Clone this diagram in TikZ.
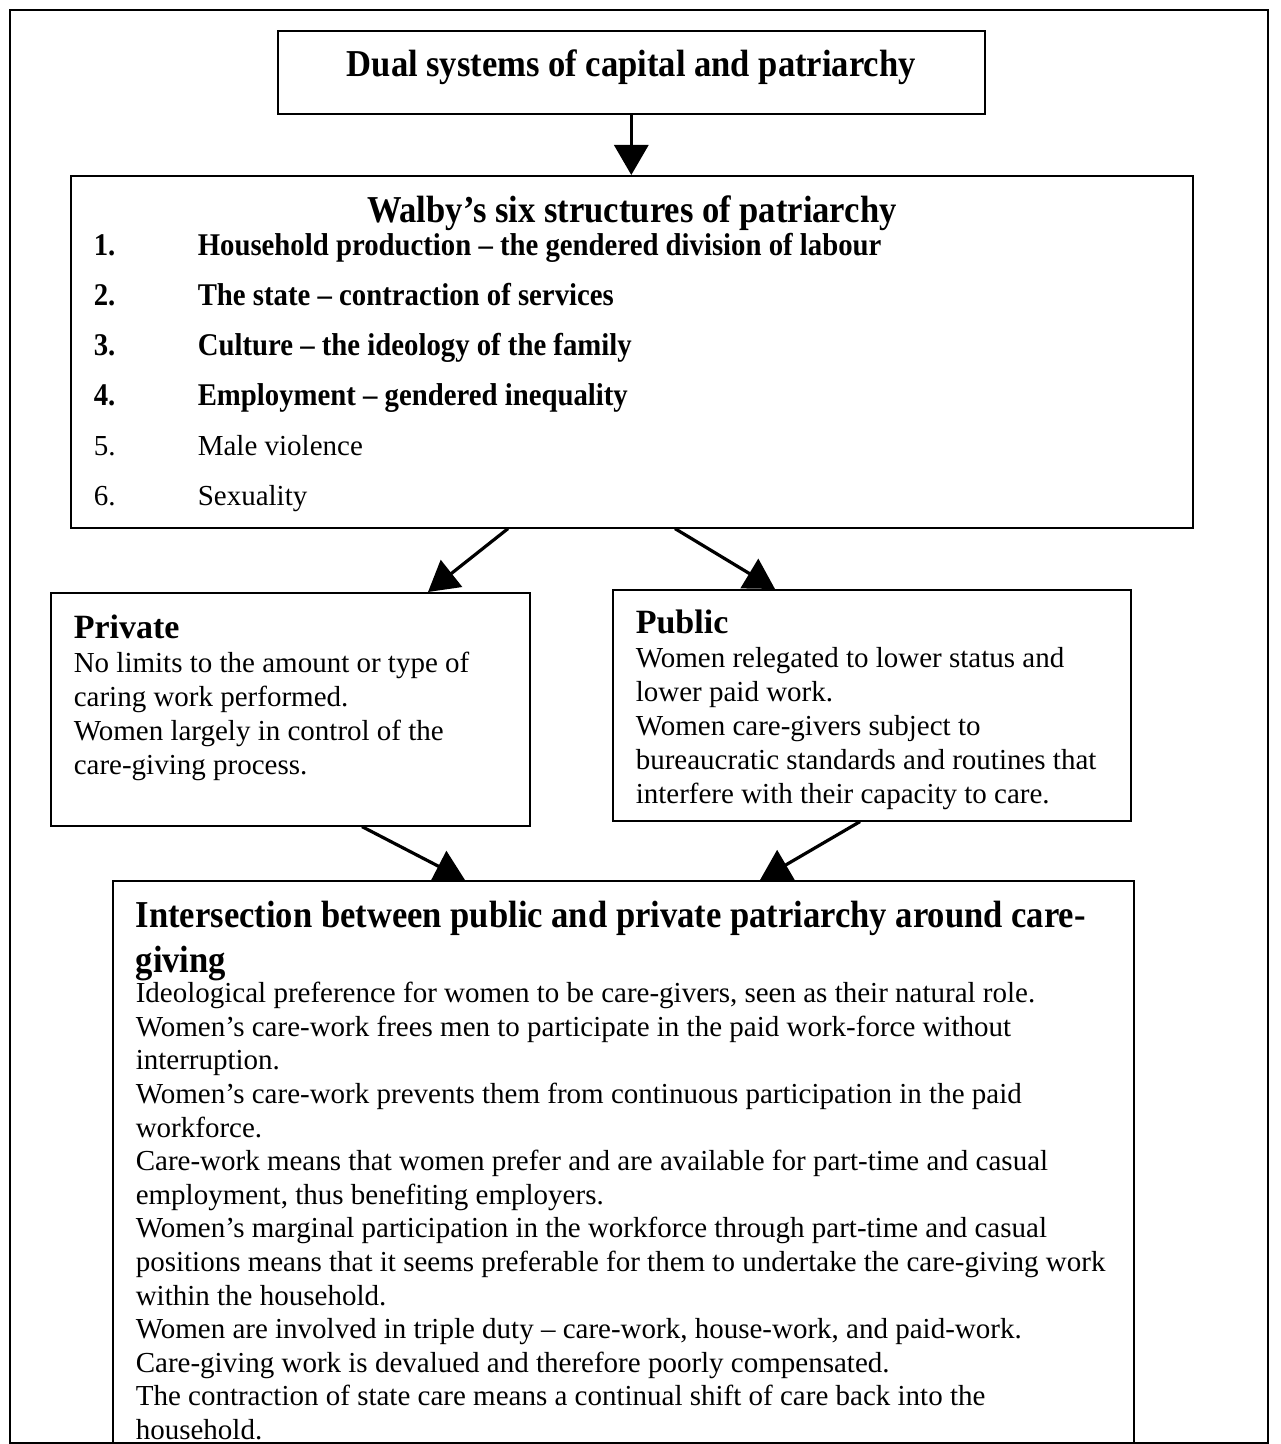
\documentclass[tikz,border=0pt]{standalone}
\usepackage{fontspec}
\setmainfont{Liberation Serif}
\newfontfamily\narrowserif[FakeStretch=0.91]{Liberation Serif}
\usetikzlibrary{arrows.meta}

\tikzset{
  box/.style={draw, rectangle, line width=0.8pt, anchor=north west, inner sep=0pt},
  flow/.style={line width=1.6pt, -{Triangle[width=17pt,length=15pt]}},
  bodytext/.style={font=\fontsize{14.5}{17}\selectfont},
}

\begin{document}
\begin{tikzpicture}[x=0.5pt, y=-0.5pt]
  \useasboundingbox (0,0) rectangle (1280,1444);
  % outer frame
  \draw[line width=0.8pt] (10,1443) -- (10,10) -- (1268,10) -- (1268,1443) -- cycle;

  % top
  \node[box, minimum width=353.5pt, minimum height=41.5pt, text depth=9pt] (dual) at (277,30)
    {\narrowserif\bfseries\fontsize{19}{21}\selectfont Dual systems of capital and patriarchy};

  % the six structures
  \node[box] (walby) at (70,175) {%
    \begin{minipage}[c][176pt][t]{561pt}
      \vspace{10pt}
      \centerline{\narrowserif\bfseries\fontsize{19}{21}\selectfont Walby’s six structures of patriarchy}
      \vspace{-6pt}
      \hspace*{11.5pt}{\fontsize{14.5}{25}\selectfont
      \begin{tabular}{@{}p{40pt}l@{}}
        {\narrowserif\bfseries\fontsize{15.8}{25}\selectfont 1.} & {\narrowserif\bfseries\fontsize{15.8}{25}\selectfont Household production – the gendered division of labour} \\
        {\narrowserif\bfseries\fontsize{15.8}{25}\selectfont 2.} & {\narrowserif\bfseries\fontsize{15.8}{25}\selectfont The state – contraction of services} \\
        {\narrowserif\bfseries\fontsize{15.8}{25}\selectfont 3.} & {\narrowserif\bfseries\fontsize{15.8}{25}\selectfont Culture – the ideology of the family} \\
        {\narrowserif\bfseries\fontsize{15.8}{25}\selectfont 4.} & {\narrowserif\bfseries\fontsize{15.8}{25}\selectfont Employment – gendered inequality} \\
        5. & Male violence \\
        6. & Sexuality
      \end{tabular}}
    \end{minipage}};

  % private and public
  \node[box, bodytext] (private) at (50,592) {%
    \begin{minipage}[c][116.5pt][t]{239.5pt}
      \vspace{11pt}
      \leftskip=11.5pt
      {\fontsize{17}{17}\selectfont\bfseries Private}\par
      No limits to the amount or type of\\
      caring work performed.\\
      Women largely in control of the\\
      care-giving process.
    \end{minipage}};

  \node[box, bodytext] (public) at (612,589) {%
    \begin{minipage}[c][115.5pt][t]{259pt}
      \vspace{10pt}
      \leftskip=11.5pt
      {\fontsize{17}{17}\selectfont\bfseries Public}\par
      Women relegated to lower status and\\
      lower paid work.\\
      Women care-givers subject to\\
      bureaucratic standards and routines that\\
      interfere with their capacity to care.
    \end{minipage}};

  % intersection
  \node[box, font=\fontsize{14.5}{16.8}\selectfont] (inter) at (112,880) {%
    \begin{minipage}[c][281.5pt][t]{510.5pt}
      \vspace{10pt}
      \leftskip=11.5pt
      {\narrowserif\bfseries\fontsize{19}{22.5}\selectfont Intersection between public and private patriarchy around care-\\
      giving\par}
      \vspace{-1.5pt}
      Ideological preference for women to be care-givers, seen as their natural role.\\
      Women’s care-work frees men to participate in the paid work-force without\\
      interruption.\\
      Women’s care-work prevents them from continuous participation in the paid\\
      workforce.\\
      Care-work means that women prefer and are available for part-time and casual\\
      employment, thus benefiting employers.\\
      Women’s marginal participation in the workforce through part-time and casual\\
      positions means that it seems preferable for them to undertake the care-giving work\\
      within the household.\\
      Women are involved in triple duty – care-work, house-work, and paid-work.\\
      Care-giving work is devalued and therefore poorly compensated.\\
      The contraction of state care means a continual shift of care back into the\\
      household.
    \end{minipage}};

  % connectors
  \draw[flow] (dual.south) -- (dual.south |- walby.north);
  \draw[flow] ([xshift=219pt]walby.south west) -- ([xshift=189pt]private.north west);
  \draw[flow] ([xshift=302.5pt]walby.south west) -- ([xshift=81.5pt]public.north west);
  \draw[flow] ([xshift=156pt]private.south west) -- ([xshift=176.5pt]inter.north west);
  \draw[flow] ([xshift=124pt]public.south west) -- ([xshift=324pt]inter.north west);
\end{tikzpicture}
\end{document}
